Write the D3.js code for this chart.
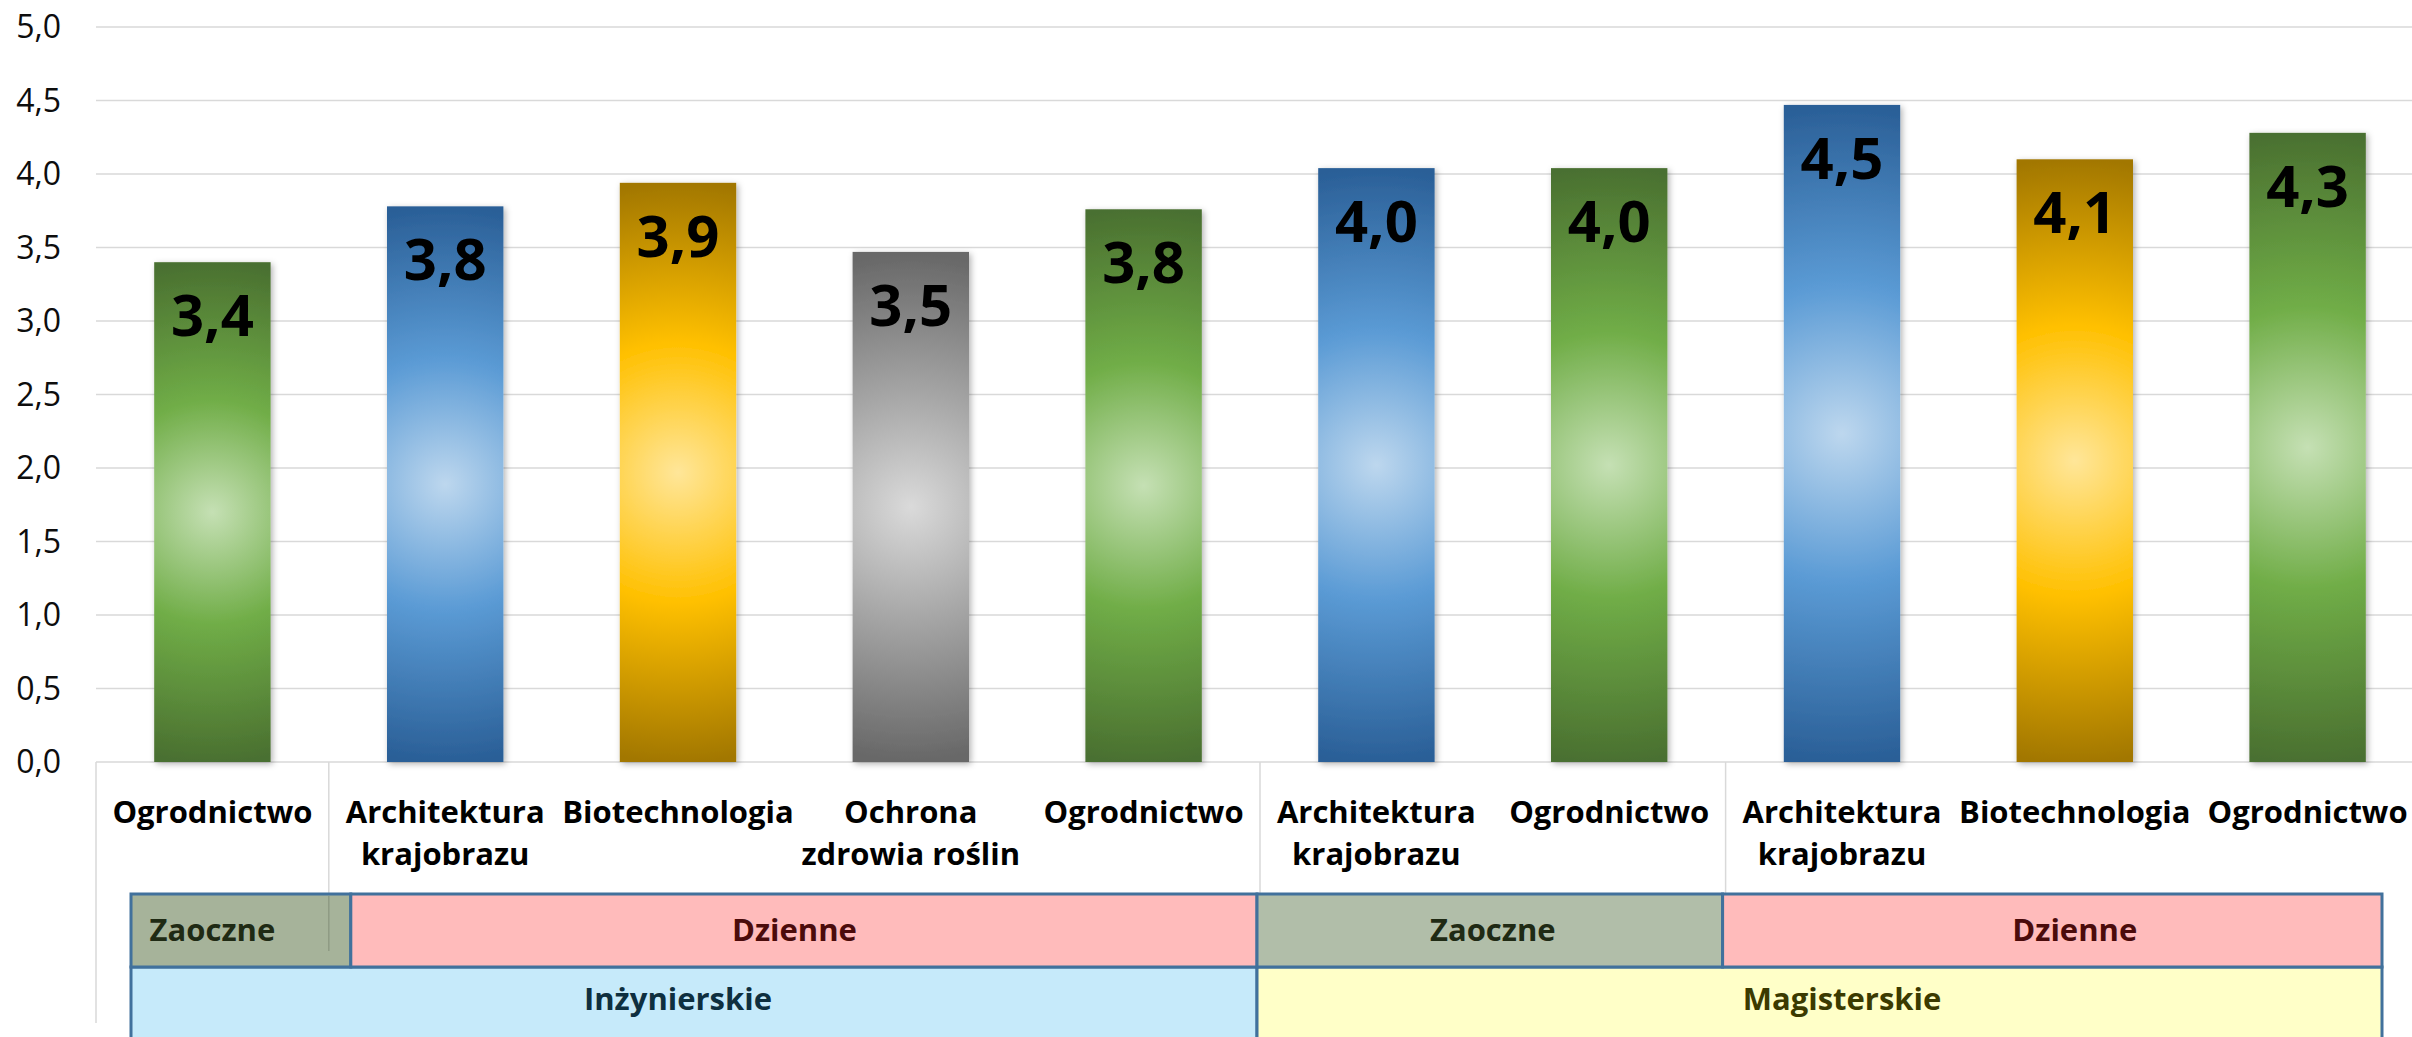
<!DOCTYPE html>
<html lang="pl">
<head>
  <meta charset="UTF-8">
  <title>Oceny wg kierunku</title>
  <script src="https://d3js.org/d3.v7.min.js"></script>
  <style>
    html, body { margin: 0; padding: 0; background: #fff; overflow: hidden; }
    svg { display: block; font-family: 'Open Sans', sans-serif; }
    .grid line { stroke: #d9d9d9; stroke-width: 1.5px; }
    .ytick { font-size: 32px; fill: #0d0d0d; }
    .xlab { font-size: 31px; font-weight: bold; fill: #000; }
    .val { font-size: 58px; font-weight: bold; fill: #000; }
    .grp { font-size: 31px; font-weight: bold; }
    .box { stroke: #41719c; stroke-width: 3px; }
  </style>
</head>
<body>
  <svg width="2412" height="1037"></svg>
  <script>
    // data
    const categories = ["Ogrodnictwo", "Architektura krajobrazu", "Biotechnologia", "Ochrona zdrowia roślin", "Ogrodnictwo",
                        "Architektura krajobrazu", "Ogrodnictwo", "Architektura krajobrazu", "Biotechnologia", "Ogrodnictwo"];
    const values = [3.40, 3.78, 3.94, 3.47, 3.76, 4.04, 4.04, 4.47, 4.10, 4.28];
    const yTicks = [0, 0.5, 1, 1.5, 2, 2.5, 3, 3.5, 4, 4.5, 5];

    // study mode row (category index ranges)
    const modeNames  = ["Zaoczne", "Dzienne", "Zaoczne", "Dzienne"];
    const modeStarts = [0, 1, 5, 7];
    const modeEnds   = [1, 5, 7, 10];
    // degree row
    const levelNames  = ["Inżynierskie", "Magisterskie"];
    const levelStarts = [0, 5];
    const levelEnds   = [5, 10];

    const W = 2412, H = 1037;
    const plotLeft = 96, plotTop = 27, base = 762;
    const svg = d3.select("svg");

    const pl = d3.formatLocale({ decimal: ",", thousands: " ", grouping: [3], currency: ["", " zł"] });
    const fmt = pl.format(".1f");

    const x = d3.scaleBand().domain(d3.range(categories.length)).range([plotLeft, 2424])
                .paddingInner(0.5).paddingOuter(0.25);
    const y = d3.scaleLinear().domain([0, 5]).range([base, plotTop]);
    const edge = i => plotLeft + i * x.step();   // category boundary

    const palette = {
      "Ogrodnictwo":             ["#c5e0b4", "#70ad47", "#4a7030"],
      "Architektura krajobrazu": ["#bdd7ee", "#5b9bd5", "#2a5f97"],
      "Biotechnologia":          ["#ffe699", "#ffc000", "#a27700"],
      "Ochrona zdrowia roślin":  ["#dadada", "#a5a5a5", "#676767"]
    };

    const defs = svg.append("defs");
    const sh = defs.append("filter").attr("id", "shadow").attr("x", "-20%").attr("y", "-10%")
                   .attr("width", "140%").attr("height", "120%");
    sh.append("feDropShadow").attr("dx", 2).attr("dy", 2).attr("stdDeviation", 3)
      .attr("flood-color", "#000").attr("flood-opacity", 0.3);

    // one radial gradient per bar, centred on the bar
    values.forEach((v, i) => {
      const c = palette[categories[i]];
      const g = defs.append("radialGradient").attr("id", "g" + i).attr("gradientUnits", "userSpaceOnUse")
        .attr("cx", x(i) + x.bandwidth() / 2).attr("cy", (y(v) + base) / 2).attr("r", (base - y(v)) / 2);
      g.append("stop").attr("offset", 0).attr("stop-color", c[0]);
      g.append("stop").attr("offset", 0.45).attr("stop-color", c[1]);
      g.append("stop").attr("offset", 1).attr("stop-color", c[2]);
    });

    // gridlines + y labels
    const grid = svg.append("g").attr("class", "grid");
    grid.selectAll("line").data(yTicks).enter().append("line")
      .attr("x1", plotLeft).attr("x2", W).attr("y1", d => y(d)).attr("y2", d => y(d));
    svg.append("g").selectAll("text").data(yTicks).enter().append("text")
      .attr("class", "ytick").attr("x", 61).attr("y", d => y(d)).attr("dy", "0.35em")
      .attr("text-anchor", "end").text(d => fmt(d));

    // axis lines below the plot
    const axisLines = svg.append("g").attr("stroke", "#d9d9d9").attr("stroke-width", 1.5);
    axisLines.append("line").attr("x1", plotLeft).attr("x2", plotLeft).attr("y1", base).attr("y2", 1023);
    modeStarts.slice(1).forEach(s => {
      axisLines.append("line").attr("x1", edge(s)).attr("x2", edge(s)).attr("y1", base).attr("y2", 894);
    });

    // bars
    svg.append("g").selectAll("rect").data(values).enter().append("rect")
      .attr("x", (d, i) => x(i)).attr("y", d => y(d))
      .attr("width", x.bandwidth()).attr("height", d => base - y(d))
      .attr("fill", (d, i) => `url(#g${i})`).attr("filter", "url(#shadow)");

    // value labels, inside end
    svg.append("g").selectAll("text").data(values).enter().append("text")
      .attr("class", "val").attr("text-anchor", "middle")
      .attr("x", (d, i) => x(i) + x.bandwidth() / 2).attr("y", d => y(d) + 74)
      .text(d => fmt(d));

    // category labels, split after first word
    const xl = svg.append("g").selectAll("text").data(categories).enter().append("text")
      .attr("class", "xlab").attr("text-anchor", "middle")
      .attr("x", (d, i) => x(i) + x.bandwidth() / 2).attr("y", 823);
    xl.each(function(d) {
      const k = d.indexOf(" ");
      const lines = k < 0 ? [d] : [d.slice(0, k), d.slice(k + 1)];
      lines.forEach((t, j) => d3.select(this).append("tspan")
        .attr("x", d3.select(this).attr("x")).attr("dy", j ? 42 : 0).text(t));
    });

    // group boxes
    const boxL = 131, boxR = 2382;
    const bx0 = s => s === 0 ? boxL : (s === 1 ? edge(1) + 22 : edge(s) - 3);
    const bx1 = e => e === categories.length ? boxR : (e === 1 ? edge(1) + 22 : edge(e) - 3);
    const modeFill = { "Zaoczne": ["#a6b39a", "#b1bea9"], "Dzienne": ["#ffbbbb", "#ffbbbb"] };
    const modeText = { "Zaoczne": "#1f2a14", "Dzienne": "#4b0b0b" };

    svg.append("g").selectAll("rect").data(levelNames).enter().append("rect")
      .attr("class", "box").attr("fill", (d, i) => i ? "#ffffc8" : "#c6eafa")
      .attr("x", (d, i) => bx0(levelStarts[i])).attr("y", 967)
      .attr("width", (d, i) => bx1(levelEnds[i]) - bx0(levelStarts[i])).attr("height", 100);
    svg.append("g").selectAll("rect").data(modeNames).enter().append("rect")
      .attr("class", "box").attr("fill", (d, i) => modeFill[d][i < 2 ? 0 : 1])
      .attr("x", (d, i) => bx0(modeStarts[i])).attr("y", 894)
      .attr("width", (d, i) => bx1(modeEnds[i]) - bx0(modeStarts[i])).attr("height", 73);

    // tick line seen through first box
    svg.append("line").attr("x1", edge(1)).attr("x2", edge(1)).attr("y1", 896).attr("y2", 951)
      .attr("stroke", "#8e9a84").attr("stroke-width", 1.5);

    svg.append("g").selectAll("text").data(modeNames).enter().append("text")
      .attr("class", "grp").attr("text-anchor", "middle").attr("fill", d => modeText[d])
      .attr("x", (d, i) => (edge(modeStarts[i]) + edge(modeEnds[i])) / 2).attr("y", 941)
      .text(d => d);
    svg.append("g").selectAll("text").data(levelNames).enter().append("text")
      .attr("class", "grp").attr("text-anchor", "middle").attr("fill", (d, i) => i ? "#3b3a00" : "#0e2f3f")
      .attr("x", (d, i) => (edge(levelStarts[i]) + edge(levelEnds[i])) / 2).attr("y", 1010)
      .text(d => d);
  </script>
</body>
</html>
